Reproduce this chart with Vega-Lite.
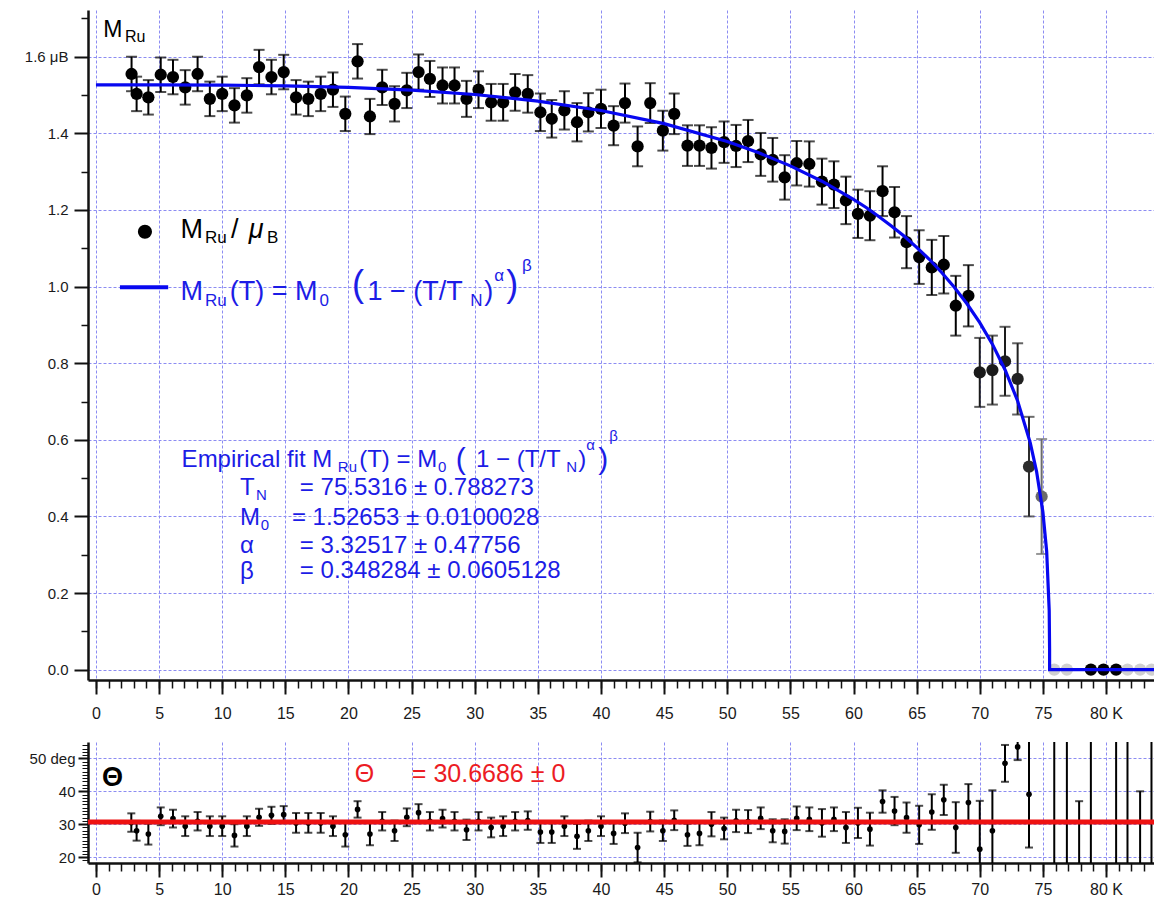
{
  "$schema": "https://vega.github.io/schema/vega-lite/v6.json",
  "padding": {"left": 8, "top": 10, "right": 0, "bottom": 0},
  "spacing": 21,
  "config": {
    "view": {"stroke": null},
    "font": "Liberation Sans",
    "axis": {"labelFont": "Liberation Sans", "labelColor": "#1a1a1a", "tickColor": "#111111", "domainColor": "#111111", "title": null},
    "text": {"font": "Liberation Sans", "align": "left", "baseline": "alphabetic"}
  },
  "datasets": {
    "mru": [
      {"T": 2.82, "M": 1.555, "e": 0.045, "w": 1},
      {"T": 3.22, "M": 1.503, "e": 0.045, "w": 1},
      {"T": 4.15, "M": 1.494, "e": 0.045, "w": 1},
      {"T": 5.13, "M": 1.553, "e": 0.045, "w": 1},
      {"T": 6.1, "M": 1.547, "e": 0.045, "w": 1},
      {"T": 7.07, "M": 1.52, "e": 0.045, "w": 1},
      {"T": 8.05, "M": 1.555, "e": 0.045, "w": 1},
      {"T": 9.02, "M": 1.49, "e": 0.045, "w": 1},
      {"T": 10.0, "M": 1.503, "e": 0.045, "w": 1},
      {"T": 10.97, "M": 1.473, "e": 0.045, "w": 1},
      {"T": 11.95, "M": 1.499, "e": 0.045, "w": 1},
      {"T": 12.92, "M": 1.573, "e": 0.045, "w": 1},
      {"T": 13.9, "M": 1.547, "e": 0.045, "w": 1},
      {"T": 14.87, "M": 1.56, "e": 0.045, "w": 1},
      {"T": 15.85, "M": 1.494, "e": 0.045, "w": 1},
      {"T": 16.82, "M": 1.49, "e": 0.045, "w": 1},
      {"T": 17.8, "M": 1.503, "e": 0.045, "w": 1},
      {"T": 18.77, "M": 1.514, "e": 0.045, "w": 1},
      {"T": 19.75, "M": 1.451, "e": 0.045, "w": 1},
      {"T": 20.72, "M": 1.588, "e": 0.045, "w": 1},
      {"T": 21.7, "M": 1.444, "e": 0.046, "w": 1},
      {"T": 22.67, "M": 1.52, "e": 0.046, "w": 1},
      {"T": 23.65, "M": 1.477, "e": 0.046, "w": 1},
      {"T": 24.62, "M": 1.512, "e": 0.046, "w": 1},
      {"T": 25.55, "M": 1.56, "e": 0.046, "w": 1},
      {"T": 26.45, "M": 1.542, "e": 0.047, "w": 1},
      {"T": 27.45, "M": 1.525, "e": 0.047, "w": 1},
      {"T": 28.4, "M": 1.525, "e": 0.047, "w": 1},
      {"T": 29.35, "M": 1.49, "e": 0.047, "w": 1},
      {"T": 30.3, "M": 1.514, "e": 0.048, "w": 1},
      {"T": 31.3, "M": 1.481, "e": 0.048, "w": 1},
      {"T": 32.25, "M": 1.481, "e": 0.048, "w": 1},
      {"T": 33.2, "M": 1.507, "e": 0.048, "w": 1},
      {"T": 34.2, "M": 1.503, "e": 0.049, "w": 1},
      {"T": 35.2, "M": 1.455, "e": 0.049, "w": 1},
      {"T": 36.1, "M": 1.438, "e": 0.049, "w": 1},
      {"T": 37.1, "M": 1.46, "e": 0.05, "w": 1},
      {"T": 38.1, "M": 1.429, "e": 0.05, "w": 1},
      {"T": 39.0, "M": 1.455, "e": 0.05, "w": 1},
      {"T": 40.0, "M": 1.464, "e": 0.05, "w": 1},
      {"T": 41.0, "M": 1.42, "e": 0.051, "w": 1},
      {"T": 41.9, "M": 1.479, "e": 0.051, "w": 1},
      {"T": 42.9, "M": 1.366, "e": 0.052, "w": 1},
      {"T": 43.9, "M": 1.479, "e": 0.052, "w": 1},
      {"T": 44.9, "M": 1.407, "e": 0.052, "w": 1},
      {"T": 45.8, "M": 1.451, "e": 0.053, "w": 1},
      {"T": 46.85, "M": 1.368, "e": 0.053, "w": 1},
      {"T": 47.8, "M": 1.368, "e": 0.053, "w": 1},
      {"T": 48.75, "M": 1.362, "e": 0.054, "w": 1},
      {"T": 49.75, "M": 1.377, "e": 0.054, "w": 1},
      {"T": 50.7, "M": 1.367, "e": 0.055, "w": 1},
      {"T": 51.65, "M": 1.38, "e": 0.055, "w": 1},
      {"T": 52.65, "M": 1.345, "e": 0.056, "w": 1},
      {"T": 53.6, "M": 1.331, "e": 0.057, "w": 1},
      {"T": 54.55, "M": 1.285, "e": 0.058, "w": 1},
      {"T": 55.5, "M": 1.322, "e": 0.058, "w": 1},
      {"T": 56.5, "M": 1.32, "e": 0.059, "w": 1},
      {"T": 57.5, "M": 1.274, "e": 0.06, "w": 1},
      {"T": 58.45, "M": 1.266, "e": 0.061, "w": 1},
      {"T": 59.4, "M": 1.225, "e": 0.062, "w": 1},
      {"T": 60.35, "M": 1.19, "e": 0.063, "w": 1},
      {"T": 61.3, "M": 1.185, "e": 0.064, "w": 1},
      {"T": 62.3, "M": 1.249, "e": 0.065, "w": 1},
      {"T": 63.25, "M": 1.194, "e": 0.066, "w": 1},
      {"T": 64.2, "M": 1.116, "e": 0.068, "w": 1},
      {"T": 65.2, "M": 1.077, "e": 0.07, "w": 1},
      {"T": 66.2, "M": 1.05, "e": 0.072, "w": 1},
      {"T": 67.15, "M": 1.057, "e": 0.075, "w": 1},
      {"T": 68.1, "M": 0.95, "e": 0.078, "w": 1},
      {"T": 69.1, "M": 0.976, "e": 0.08, "w": 1},
      {"T": 70.0, "M": 0.776, "e": 0.09, "w": 0.9},
      {"T": 71.0, "M": 0.782, "e": 0.09, "w": 0.9},
      {"T": 72.0, "M": 0.805, "e": 0.09, "w": 0.88},
      {"T": 73.0, "M": 0.759, "e": 0.093, "w": 0.86},
      {"T": 73.9, "M": 0.53, "e": 0.13, "w": 0.8},
      {"T": 74.9, "M": 0.452, "e": 0.15, "w": 0.5},
      {"T": 75.9, "M": 0, "e": 0, "w": 0.08},
      {"T": 76.9, "M": 0, "e": 0, "w": 0.08},
      {"T": 78.8, "M": 0, "e": 0, "w": 1},
      {"T": 79.8, "M": 0, "e": 0, "w": 1},
      {"T": 80.8, "M": 0, "e": 0, "w": 1},
      {"T": 81.7, "M": 0, "e": 0, "w": 0.08},
      {"T": 82.7, "M": 0, "e": 0, "w": 0.08},
      {"T": 83.6, "M": 0, "e": 0, "w": 0.08}
    ],
    "fit": [
      {"T": 0, "M": 1.52653}, {"T": 5, "M": 1.52647}, {"T": 10, "M": 1.52589}, {"T": 15, "M": 1.52406},
      {"T": 20, "M": 1.5201}, {"T": 25, "M": 1.51297}, {"T": 30, "M": 1.50147}, {"T": 35, "M": 1.48426},
      {"T": 40, "M": 1.45963}, {"T": 45, "M": 1.42536}, {"T": 50, "M": 1.37864}, {"T": 52.5, "M": 1.34926},
      {"T": 55, "M": 1.31513}, {"T": 57.5, "M": 1.27504}, {"T": 60, "M": 1.22762}, {"T": 61, "M": 1.20636},
      {"T": 62, "M": 1.18306}, {"T": 63, "M": 1.15833}, {"T": 64, "M": 1.1318}, {"T": 65, "M": 1.10249},
      {"T": 66, "M": 1.07131}, {"T": 67, "M": 1.03608}, {"T": 68, "M": 0.99771}, {"T": 69, "M": 0.95456},
      {"T": 70, "M": 0.90604}, {"T": 71, "M": 0.8497}, {"T": 72, "M": 0.78311}, {"T": 73, "M": 0.70134},
      {"T": 74, "M": 0.59199}, {"T": 74.5, "M": 0.51718}, {"T": 75, "M": 0.41161}, {"T": 75.3, "M": 0.30867},
      {"T": 75.5, "M": 0.15438}, {"T": 75.53, "M": 0.0547}, {"T": 75.5316, "M": 0}, {"T": 84, "M": 0}
    ],
    "theta": [
      {"T": 2.8, "th": 30.5, "e": 2.8}, {"T": 3.22, "th": 28.0, "e": 3.0}, {"T": 4.15, "th": 27.0, "e": 3.2},
      {"T": 5.13, "th": 32.4, "e": 2.7}, {"T": 6.1, "th": 31.7, "e": 2.7}, {"T": 7.07, "th": 29.4, "e": 3.0},
      {"T": 8.05, "th": 30.9, "e": 2.8}, {"T": 9.02, "th": 29.4, "e": 3.0}, {"T": 10.0, "th": 29.4, "e": 3.0},
      {"T": 10.97, "th": 26.6, "e": 3.4}, {"T": 11.95, "th": 29.4, "e": 3.0}, {"T": 12.92, "th": 32.1, "e": 2.6},
      {"T": 13.9, "th": 32.7, "e": 2.6}, {"T": 14.87, "th": 32.9, "e": 2.6}, {"T": 15.85, "th": 30.4, "e": 3.0},
      {"T": 16.82, "th": 30.4, "e": 3.0}, {"T": 17.8, "th": 30.4, "e": 3.0}, {"T": 18.77, "th": 29.4, "e": 3.0},
      {"T": 19.75, "th": 26.8, "e": 3.6}, {"T": 20.72, "th": 34.5, "e": 2.5}, {"T": 21.7, "th": 27.0, "e": 3.4},
      {"T": 22.67, "th": 30.9, "e": 2.8}, {"T": 23.65, "th": 28.0, "e": 3.1}, {"T": 24.62, "th": 32.1, "e": 2.7},
      {"T": 25.55, "th": 33.5, "e": 2.6}, {"T": 26.45, "th": 30.9, "e": 2.8}, {"T": 27.45, "th": 31.7, "e": 2.7},
      {"T": 28.4, "th": 30.9, "e": 2.8}, {"T": 29.35, "th": 28.3, "e": 3.1}, {"T": 30.3, "th": 30.9, "e": 2.8},
      {"T": 31.3, "th": 29.0, "e": 3.0}, {"T": 32.25, "th": 29.4, "e": 3.0}, {"T": 33.2, "th": 30.9, "e": 2.8},
      {"T": 34.2, "th": 31.1, "e": 2.8}, {"T": 35.2, "th": 27.6, "e": 3.3}, {"T": 36.1, "th": 27.6, "e": 3.3},
      {"T": 37.1, "th": 29.4, "e": 3.0}, {"T": 38.1, "th": 26.3, "e": 3.8}, {"T": 39.0, "th": 28.0, "e": 3.1},
      {"T": 40.0, "th": 29.4, "e": 3.0}, {"T": 41.0, "th": 27.2, "e": 3.2}, {"T": 41.9, "th": 30.3, "e": 3.0},
      {"T": 42.9, "th": 22.9, "e": 4.5}, {"T": 43.9, "th": 30.8, "e": 3.0}, {"T": 44.9, "th": 28.0, "e": 3.1},
      {"T": 45.8, "th": 31.2, "e": 3.0}, {"T": 46.85, "th": 26.8, "e": 3.4}, {"T": 47.8, "th": 27.2, "e": 3.6},
      {"T": 48.75, "th": 30.0, "e": 3.7}, {"T": 49.75, "th": 28.7, "e": 3.3}, {"T": 50.7, "th": 31.0, "e": 3.4},
      {"T": 51.65, "th": 30.8, "e": 3.5}, {"T": 52.65, "th": 31.8, "e": 3.3}, {"T": 53.6, "th": 28.0, "e": 3.5},
      {"T": 54.55, "th": 27.8, "e": 3.7}, {"T": 55.5, "th": 31.8, "e": 3.6}, {"T": 56.5, "th": 31.5, "e": 3.6},
      {"T": 57.5, "th": 30.4, "e": 4.2}, {"T": 58.45, "th": 31.5, "e": 3.6}, {"T": 59.4, "th": 29.0, "e": 4.7},
      {"T": 60.35, "th": 30.4, "e": 4.6}, {"T": 61.3, "th": 28.5, "e": 5.0}, {"T": 62.3, "th": 36.9, "e": 3.4},
      {"T": 63.25, "th": 34.0, "e": 4.3}, {"T": 64.2, "th": 32.0, "e": 4.6}, {"T": 65.2, "th": 29.8, "e": 5.8},
      {"T": 66.2, "th": 33.7, "e": 5.4}, {"T": 67.15, "th": 37.4, "e": 4.6}, {"T": 68.1, "th": 29.0, "e": 7.7},
      {"T": 69.1, "th": 36.6, "e": 5.6}, {"T": 70.0, "th": 22.4, "e": 14.7}, {"T": 71.0, "th": 28.0, "e": 12.3},
      {"T": 72.0, "th": 48.5, "e": 5.6}, {"T": 73.0, "th": 53.5, "e": 4.0}, {"T": 73.9, "th": 39.1, "e": 16.2},
      {"T": 75.9, "th": 5, "e": 200}, {"T": 76.9, "th": 5, "e": 200}, {"T": 77.87, "th": 10, "e": 27},
      {"T": 78.8, "th": 5, "e": 200}, {"T": 80.8, "th": 5, "e": 200}, {"T": 81.7, "th": 5, "e": 200},
      {"T": 82.7, "th": 12, "e": 28}, {"T": 83.6, "th": 5, "e": 200}
    ]
  },
  "vconcat": [
    {
      "width": 1066,
      "height": 670,
      "resolve": {"axis": {"x": "independent", "y": "independent"}},
      "layer": [
        {
          "data": {"name": "mru"},
          "transform": [{"filter": "datum.e > 0"}],
          "mark": {"type": "errorbar", "ticks": {"size": 11}, "thickness": 2, "clip": true},
          "encoding": {
            "x": {"field": "T", "type": "quantitative", "axis": null},
            "y": {"field": "M", "type": "quantitative", "axis": null},
            "yError": {"field": "e"},
            "color": {"field": "w", "type": "quantitative", "scale": {"domain": [0, 1], "range": ["#e4e4e4", "#000000"]}, "legend": null}
          }
        },
        {
          "data": {"name": "mru"},
          "mark": {"type": "point", "filled": true, "size": 150, "opacity": 1, "clip": true},
          "encoding": {
            "x": {"field": "T", "type": "quantitative", "scale": {"domain": [-0.63, 83.8], "nice": false, "zero": false},
              "axis": {"orient": "bottom", "values": [0,5,10,15,20,25,30,35,40,45,50,55,60,65,70,75,80], "tickSize": 14, "tickWidth": 2, "domainWidth": 2.5, "labelFontSize": 16, "labelPadding": 11, "grid": true, "gridColor": "#8c8cf2", "gridDash": [3, 2], "gridWidth": 1, "labelExpr": "datum.value == 80 ? '80 K' : datum.label", "minExtent": 40, "maxExtent": 40}},
            "y": {"field": "M", "type": "quantitative", "scale": {"domain": [-0.027, 1.722], "nice": false, "zero": false},
              "axis": {"orient": "left", "values": [0, 0.2, 0.4, 0.6, 0.8, 1.0, 1.2, 1.4, 1.6], "format": ".1f", "tickSize": 14, "tickWidth": 2, "domainWidth": 2.5, "labelFontSize": 15, "labelPadding": 6, "grid": true, "gridColor": "#8c8cf2", "gridDash": [3, 2], "gridWidth": 1, "labelExpr": "datum.value > 1.55 ? '1.6 μB' : datum.label", "minExtent": 80, "maxExtent": 80}},
            "color": {"field": "w", "type": "quantitative", "legend": null}
          }
        },
        {
          "data": {"name": "fit"},
          "mark": {"type": "line", "color": "#0808f0", "strokeWidth": 3.2, "clip": true},
          "encoding": {
            "x": {"field": "T", "type": "quantitative", "axis": {"orient": "bottom", "values": [0,1,2,3,4,5,6,7,8,9,10,11,12,13,14,15,16,17,18,19,20,21,22,23,24,25,26,27,28,29,30,31,32,33,34,35,36,37,38,39,40,41,42,43,44,45,46,47,48,49,50,51,52,53,54,55,56,57,58,59,60,61,62,63,64,65,66,67,68,69,70,71,72,73,74,75,76,77,78,79,80,81,82,83], "tickSize": 8, "tickWidth": 1.5, "labels": false, "domain": false, "grid": false, "minExtent": 40, "maxExtent": 40}},
            "y": {"field": "M", "type": "quantitative", "axis": {"orient": "left", "values": [0.1, 0.3, 0.5, 0.7, 0.9, 1.1, 1.3, 1.5, 1.7], "tickSize": 7, "tickWidth": 1.5, "labels": false, "domain": false, "grid": false, "minExtent": 80, "maxExtent": 80}}
          }
        },
        {"data": {"values": [{}]}, "mark": {"type": "text", "text": "M", "fontSize": 23, "color": "#000"}, "encoding": {"x": {"datum": 0.578, "type": "quantitative", "axis": null}, "y": {"datum": 1.6522, "type": "quantitative", "axis": null}}},
        {"data": {"values": [{}]}, "mark": {"type": "text", "text": "Ru", "fontSize": 16, "color": "#000"}, "encoding": {"x": {"datum": 2.3, "type": "quantitative", "axis": null}, "y": {"datum": 1.6392, "type": "quantitative", "axis": null}}},
        {"data": {"values": [{}]}, "mark": {"type": "point", "filled": true, "size": 200, "color": "#000", "opacity": 1}, "encoding": {"x": {"datum": 3.88, "type": "quantitative", "axis": null}, "y": {"datum": 1.1431, "type": "quantitative", "axis": null}}},
        {"data": {"values": [{}]}, "mark": {"type": "rule", "color": "#0808f0", "strokeWidth": 4}, "encoding": {"x": {"datum": 1.9, "type": "quantitative", "axis": null}, "x2": {"datum": 5.72}, "y": {"datum": 0.998, "type": "quantitative", "axis": null}}},
        {"data": {"values": [{}]}, "mark": {"type": "text", "text": "M", "fontSize": 27, "color": "#000"}, "encoding": {"x": {"datum": 6.706, "type": "quantitative", "axis": null}, "y": {"datum": 1.1258, "type": "quantitative", "axis": null}}},
        {"data": {"values": [{}]}, "mark": {"type": "text", "text": "Ru", "fontSize": 17, "color": "#000"}, "encoding": {"x": {"datum": 8.63, "type": "quantitative", "axis": null}, "y": {"datum": 1.1136, "type": "quantitative", "axis": null}}},
        {"data": {"values": [{}]}, "mark": {"type": "text", "text": "/", "fontSize": 27, "color": "#000"}, "encoding": {"x": {"datum": 10.7, "type": "quantitative", "axis": null}, "y": {"datum": 1.1258, "type": "quantitative", "axis": null}}},
        {"data": {"values": [{}]}, "mark": {"type": "text", "text": "μ", "fontSize": 27, "fontStyle": "italic", "color": "#000"}, "encoding": {"x": {"datum": 12.1, "type": "quantitative", "axis": null}, "y": {"datum": 1.1258, "type": "quantitative", "axis": null}}},
        {"data": {"values": [{}]}, "mark": {"type": "text", "text": "B", "fontSize": 17, "color": "#000"}, "encoding": {"x": {"datum": 13.55, "type": "quantitative", "axis": null}, "y": {"datum": 1.1136, "type": "quantitative", "axis": null}}},
        {"data": {"values": [{}]}, "mark": {"type": "text", "text": "M", "fontSize": 27, "color": "#1c1ce6"}, "encoding": {"x": {"datum": 6.706, "type": "quantitative", "axis": null}, "y": {"datum": 0.9648, "type": "quantitative", "axis": null}}},
        {"data": {"values": [{}]}, "mark": {"type": "text", "text": "Ru", "fontSize": 17, "color": "#1c1ce6"}, "encoding": {"x": {"datum": 8.63, "type": "quantitative", "axis": null}, "y": {"datum": 0.9491, "type": "quantitative", "axis": null}}},
        {"data": {"values": [{}]}, "mark": {"type": "text", "text": "(T) = M", "fontSize": 27, "color": "#1c1ce6"}, "encoding": {"x": {"datum": 10.6, "type": "quantitative", "axis": null}, "y": {"datum": 0.9648, "type": "quantitative", "axis": null}}},
        {"data": {"values": [{}]}, "mark": {"type": "text", "text": "0", "fontSize": 17, "color": "#1c1ce6"}, "encoding": {"x": {"datum": 17.7, "type": "quantitative", "axis": null}, "y": {"datum": 0.9491, "type": "quantitative", "axis": null}}},
        {"data": {"values": [{}]}, "mark": {"type": "text", "text": "(", "fontSize": 36, "color": "#1c1ce6"}, "encoding": {"x": {"datum": 20.27, "type": "quantitative", "axis": null}, "y": {"datum": 0.975, "type": "quantitative", "axis": null}}},
        {"data": {"values": [{}]}, "mark": {"type": "text", "text": "1 − (T/T", "fontSize": 27, "color": "#1c1ce6"}, "encoding": {"x": {"datum": 21.5, "type": "quantitative", "axis": null}, "y": {"datum": 0.9648, "type": "quantitative", "axis": null}}},
        {"data": {"values": [{}]}, "mark": {"type": "text", "text": "N", "fontSize": 17, "color": "#1c1ce6"}, "encoding": {"x": {"datum": 29.65, "type": "quantitative", "axis": null}, "y": {"datum": 0.9491, "type": "quantitative", "axis": null}}},
        {"data": {"values": [{}]}, "mark": {"type": "text", "text": ")", "fontSize": 27, "color": "#1c1ce6"}, "encoding": {"x": {"datum": 30.75, "type": "quantitative", "axis": null}, "y": {"datum": 0.9648, "type": "quantitative", "axis": null}}},
        {"data": {"values": [{}]}, "mark": {"type": "text", "text": "α", "fontSize": 17, "color": "#1c1ce6"}, "encoding": {"x": {"datum": 31.55, "type": "quantitative", "axis": null}, "y": {"datum": 1.0144, "type": "quantitative", "axis": null}}},
        {"data": {"values": [{}]}, "mark": {"type": "text", "text": ")", "fontSize": 36, "color": "#1c1ce6"}, "encoding": {"x": {"datum": 32.5, "type": "quantitative", "axis": null}, "y": {"datum": 0.975, "type": "quantitative", "axis": null}}},
        {"data": {"values": [{}]}, "mark": {"type": "text", "text": "β", "fontSize": 17, "color": "#1c1ce6"}, "encoding": {"x": {"datum": 33.75, "type": "quantitative", "axis": null}, "y": {"datum": 1.0405, "type": "quantitative", "axis": null}}},
        {"data": {"values": [{}]}, "mark": {"type": "text", "text": "Empirical fit M", "fontSize": 24, "color": "#1c1ce6"}, "encoding": {"x": {"datum": 6.785, "type": "quantitative", "axis": null}, "y": {"datum": 0.5295, "type": "quantitative", "axis": null}}},
        {"data": {"values": [{}]}, "mark": {"type": "text", "text": "Ru", "fontSize": 15, "color": "#1c1ce6"}, "encoding": {"x": {"datum": 19.16, "type": "quantitative", "axis": null}, "y": {"datum": 0.5157, "type": "quantitative", "axis": null}}},
        {"data": {"values": [{}]}, "mark": {"type": "text", "text": "(T) = M", "fontSize": 24, "color": "#1c1ce6"}, "encoding": {"x": {"datum": 20.85, "type": "quantitative", "axis": null}, "y": {"datum": 0.5295, "type": "quantitative", "axis": null}}},
        {"data": {"values": [{}]}, "mark": {"type": "text", "text": "0", "fontSize": 15, "color": "#1c1ce6"}, "encoding": {"x": {"datum": 27.1, "type": "quantitative", "axis": null}, "y": {"datum": 0.5157, "type": "quantitative", "axis": null}}},
        {"data": {"values": [{}]}, "mark": {"type": "text", "text": "(", "fontSize": 30, "color": "#1c1ce6"}, "encoding": {"x": {"datum": 28.5, "type": "quantitative", "axis": null}, "y": {"datum": 0.5235, "type": "quantitative", "axis": null}}},
        {"data": {"values": [{}]}, "mark": {"type": "text", "text": "1 − (T/T", "fontSize": 24, "color": "#1c1ce6"}, "encoding": {"x": {"datum": 30.1, "type": "quantitative", "axis": null}, "y": {"datum": 0.5295, "type": "quantitative", "axis": null}}},
        {"data": {"values": [{}]}, "mark": {"type": "text", "text": "N", "fontSize": 15, "color": "#1c1ce6"}, "encoding": {"x": {"datum": 37.25, "type": "quantitative", "axis": null}, "y": {"datum": 0.5157, "type": "quantitative", "axis": null}}},
        {"data": {"values": [{}]}, "mark": {"type": "text", "text": ")", "fontSize": 24, "color": "#1c1ce6"}, "encoding": {"x": {"datum": 38.2, "type": "quantitative", "axis": null}, "y": {"datum": 0.5295, "type": "quantitative", "axis": null}}},
        {"data": {"values": [{}]}, "mark": {"type": "text", "text": "α", "fontSize": 15, "color": "#1c1ce6"}, "encoding": {"x": {"datum": 38.84, "type": "quantitative", "axis": null}, "y": {"datum": 0.5731, "type": "quantitative", "axis": null}}},
        {"data": {"values": [{}]}, "mark": {"type": "text", "text": ")", "fontSize": 30, "color": "#1c1ce6"}, "encoding": {"x": {"datum": 39.79, "type": "quantitative", "axis": null}, "y": {"datum": 0.5235, "type": "quantitative", "axis": null}}},
        {"data": {"values": [{}]}, "mark": {"type": "text", "text": "β", "fontSize": 15, "color": "#1c1ce6"}, "encoding": {"x": {"datum": 40.66, "type": "quantitative", "axis": null}, "y": {"datum": 0.5966, "type": "quantitative", "axis": null}}},
        {"data": {"values": [{}]}, "mark": {"type": "text", "text": "T", "fontSize": 24, "color": "#1c1ce6"}, "encoding": {"x": {"datum": 11.4, "type": "quantitative", "axis": null}, "y": {"datum": 0.4556, "type": "quantitative", "axis": null}}},
        {"data": {"values": [{}]}, "mark": {"type": "text", "text": "N", "fontSize": 15, "color": "#1c1ce6"}, "encoding": {"x": {"datum": 12.67, "type": "quantitative", "axis": null}, "y": {"datum": 0.4426, "type": "quantitative", "axis": null}}},
        {"data": {"values": [{}]}, "mark": {"type": "text", "text": "= 75.5316 ± 0.788273", "fontSize": 24, "color": "#1c1ce6"}, "encoding": {"x": {"datum": 16.15, "type": "quantitative", "axis": null}, "y": {"datum": 0.4556, "type": "quantitative", "axis": null}}},
        {"data": {"values": [{}]}, "mark": {"type": "text", "text": "M", "fontSize": 24, "color": "#1c1ce6"}, "encoding": {"x": {"datum": 11.4, "type": "quantitative", "axis": null}, "y": {"datum": 0.3773, "type": "quantitative", "axis": null}}},
        {"data": {"values": [{}]}, "mark": {"type": "text", "text": "0", "fontSize": 15, "color": "#1c1ce6"}, "encoding": {"x": {"datum": 13.05, "type": "quantitative", "axis": null}, "y": {"datum": 0.3642, "type": "quantitative", "axis": null}}},
        {"data": {"values": [{}]}, "mark": {"type": "text", "text": "= 1.52653 ± 0.0100028", "fontSize": 24, "color": "#1c1ce6"}, "encoding": {"x": {"datum": 15.52, "type": "quantitative", "axis": null}, "y": {"datum": 0.3773, "type": "quantitative", "axis": null}}},
        {"data": {"values": [{}]}, "mark": {"type": "text", "text": "α", "fontSize": 24, "color": "#1c1ce6"}, "encoding": {"x": {"datum": 11.4, "type": "quantitative", "axis": null}, "y": {"datum": 0.3042, "type": "quantitative", "axis": null}}},
        {"data": {"values": [{}]}, "mark": {"type": "text", "text": "= 3.32517 ± 0.47756", "fontSize": 24, "color": "#1c1ce6"}, "encoding": {"x": {"datum": 16.15, "type": "quantitative", "axis": null}, "y": {"datum": 0.3042, "type": "quantitative", "axis": null}}},
        {"data": {"values": [{}]}, "mark": {"type": "text", "text": "β", "fontSize": 24, "color": "#1c1ce6"}, "encoding": {"x": {"datum": 11.4, "type": "quantitative", "axis": null}, "y": {"datum": 0.237, "type": "quantitative", "axis": null}}},
        {"data": {"values": [{}]}, "mark": {"type": "text", "text": "= 0.348284 ± 0.0605128", "fontSize": 24, "color": "#1c1ce6"}, "encoding": {"x": {"datum": 16.15, "type": "quantitative", "axis": null}, "y": {"datum": 0.2389, "type": "quantitative", "axis": null}}}
      ]
    },
    {
      "width": 1066,
      "height": 121,
      "resolve": {"axis": {"x": "independent", "y": "independent"}},
      "layer": [
        {
          "data": {"name": "theta"},
          "mark": {"type": "errorbar", "ticks": {"size": 8}, "thickness": 2, "color": "#000", "clip": true},
          "encoding": {
            "x": {"field": "T", "type": "quantitative", "axis": null},
            "y": {"field": "th", "type": "quantitative", "axis": null},
            "yError": {"field": "e"}
          }
        },
        {
          "data": {"name": "theta"},
          "mark": {"type": "point", "filled": true, "size": 32, "color": "#000", "opacity": 1, "clip": true},
          "encoding": {
            "x": {"field": "T", "type": "quantitative", "scale": {"domain": [-0.63, 83.8], "nice": false, "zero": false},
              "axis": {"orient": "bottom", "values": [0,5,10,15,20,25,30,35,40,45,50,55,60,65,70,75,80], "tickSize": 14, "tickWidth": 2, "domainWidth": 2.5, "labelFontSize": 16, "labelPadding": 4, "grid": true, "gridColor": "#8c8cf2", "gridDash": [3, 2], "gridWidth": 1, "labelExpr": "datum.value == 80 ? '80 K' : datum.label"}},
            "y": {"field": "th", "type": "quantitative", "scale": {"domain": [18.2, 55], "nice": false, "zero": false},
              "axis": {"orient": "left", "values": [20, 30, 40, 50], "tickSize": 10, "tickWidth": 2, "domainWidth": 2.5, "labelFontSize": 15, "labelPadding": 3, "grid": true, "gridColor": "#8c8cf2", "gridDash": [3, 2], "gridWidth": 1, "labelExpr": "datum.value == 50 ? '50 deg' : datum.label", "minExtent": 80, "maxExtent": 80}}
          }
        },
        {
          "data": {"values": [{}]},
          "mark": {"type": "rule", "color": "#ee1111", "strokeWidth": 5},
          "encoding": {
            "x": {"datum": -0.63, "type": "quantitative", "axis": {"orient": "bottom", "values": [0,1,2,3,4,5,6,7,8,9,10,11,12,13,14,15,16,17,18,19,20,21,22,23,24,25,26,27,28,29,30,31,32,33,34,35,36,37,38,39,40,41,42,43,44,45,46,47,48,49,50,51,52,53,54,55,56,57,58,59,60,61,62,63,64,65,66,67,68,69,70,71,72,73,74,75,76,77,78,79,80,81,82,83], "tickSize": 8, "tickWidth": 1.5, "labels": false, "domain": false, "grid": false}},
            "x2": {"datum": 83.8},
            "y": {"datum": 30.6686, "type": "quantitative", "axis": {"orient": "left", "values": [19,21,22,23,24,25,26,27,28,29,31,32,33,34,35,36,37,38,39,41,42,43,44,45,46,47,48,49,51,52,53,54], "tickSize": 6, "tickWidth": 1, "labels": false, "domain": false, "grid": false, "minExtent": 80, "maxExtent": 80}}
          }
        },
        {"data": {"values": [{}]}, "mark": {"type": "text", "text": "Θ", "fontSize": 27, "fontWeight": "bold", "baseline": "middle", "color": "#000"}, "encoding": {"x": {"datum": 0.475, "type": "quantitative", "axis": null}, "y": {"datum": 43.94, "type": "quantitative", "axis": null}}},
        {"data": {"values": [{}]}, "mark": {"type": "text", "text": "Θ", "fontSize": 25, "baseline": "middle", "color": "#ec1c24"}, "encoding": {"x": {"datum": 20.5, "type": "quantitative", "axis": null}, "y": {"datum": 45.15, "type": "quantitative", "axis": null}}},
        {"data": {"values": [{}]}, "mark": {"type": "text", "text": "= 30.6686 ± 0", "fontSize": 25, "baseline": "middle", "color": "#ec1c24"}, "encoding": {"x": {"datum": 25.02, "type": "quantitative", "axis": null}, "y": {"datum": 45.15, "type": "quantitative", "axis": null}}}
      ]
    }
  ]
}
